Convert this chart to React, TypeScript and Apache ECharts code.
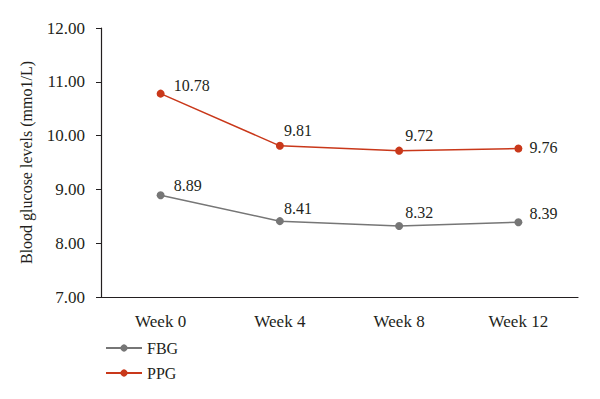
import React, { useEffect, useRef } from "react";
import * as echarts from "echarts";

const categories = ["Week 0", "Week 4", "Week 8", "Week 12"];
const fbg = [8.89, 8.41, 8.32, 8.39];
const ppg = [10.78, 9.81, 9.72, 9.76];
const yTicks = { min: 7, max: 12, interval: 1 };

// label placement (style only)
const labelDx = [2, -7, -5, 0];
const fbgLabelDy = [-10, -13, -13, -9];
const ppgLabelDy = [-8, -15, -15, -1];

const FONT = "'Liberation Serif', 'Times New Roman', serif";
const TXT = "#231f20";

export default function App() {
  const ref = useRef<HTMLDivElement>(null);
  useEffect(() => {
    if (!ref.current) return;
    const chart = echarts.init(ref.current, null, { renderer: "svg" });
    const mk = (vals: number[], dy: number[]) =>
      vals.map((v, i) => ({
        value: v,
        label: { position: "right", distance: 7, offset: [labelDx[i], dy[i]] },
      }));
    const lbl = {
      show: true,
      fontFamily: FONT,
      fontSize: 16,
      color: TXT,
      formatter: (p: any) => p.value.toFixed(2),
    };
    chart.setOption({
      animation: false,
      textStyle: { fontFamily: FONT },
      grid: { left: 101, right: 22, top: 28, bottom: 102 },
      legend: {
        orient: "vertical",
        left: 100,
        top: 335,
        itemWidth: 36,
        itemHeight: 9,
        itemGap: 9,
        textStyle: { fontFamily: FONT, fontSize: 16, color: TXT },
        data: ["FBG", "PPG"],
      },
      xAxis: {
        type: "category",
        data: categories,
        boundaryGap: true,
        axisLine: { lineStyle: { color: "#231f20", width: 1.2 } },
        axisTick: { length: 5, lineStyle: { color: "#231f20" } },
        axisLabel: { fontFamily: FONT, fontSize: 17, color: TXT, margin: 16 },
      },
      yAxis: {
        type: "value",
        min: yTicks.min,
        max: yTicks.max,
        interval: yTicks.interval,
        name: "Blood glucose levels (mmo1/L)",
        nameLocation: "middle",
        nameGap: 67,
        nameTextStyle: { fontFamily: FONT, fontSize: 16, color: TXT },
        axisLine: { show: true, lineStyle: { color: "#231f20", width: 1.2 } },
        axisTick: { show: true, length: 5, lineStyle: { color: "#231f20" } },
        splitLine: { show: false },
        axisLabel: {
          fontFamily: FONT,
          fontSize: 17,
          color: TXT,
          margin: 16,
          formatter: (v: number) => v.toFixed(2),
        },
      },
      series: [
        {
          name: "FBG",
          type: "line",
          data: mk(fbg, fbgLabelDy),
          color: "#767676",
          symbol: "circle",
          symbolSize: 8,
          lineStyle: { width: 1.5 },
          label: lbl,
        },
        {
          name: "PPG",
          type: "line",
          data: mk(ppg, ppgLabelDy),
          color: "#c9381a",
          symbol: "circle",
          symbolSize: 8,
          lineStyle: { width: 1.5 },
          label: lbl,
        },
      ],
    });
    return () => chart.dispose();
  }, []);
  return <div ref={ref} style={{ width: 600, height: 399, position: "absolute", left: 0, top: 0 }} />;
}
